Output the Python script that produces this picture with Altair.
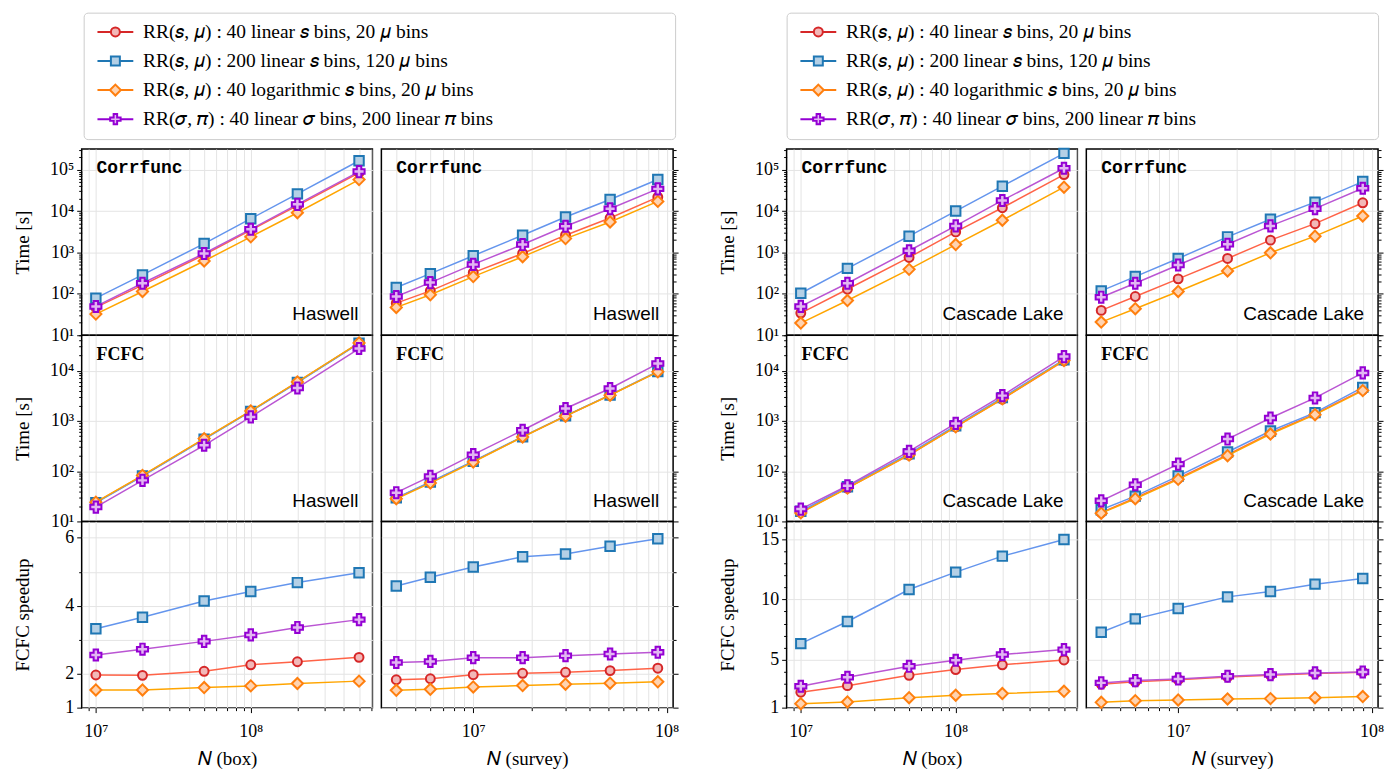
import altair as alt
import pandas as pd

KEYS = ["lin", "fine", "log", "pi"]
LABELS = ["RR(𝑠, 𝜇) : 40 linear 𝑠 bins, 20 𝜇 bins",
          "RR(𝑠, 𝜇) : 200 linear 𝑠 bins, 120 𝜇 bins",
          "RR(𝑠, 𝜇) : 40 logarithmic 𝑠 bins, 20 𝜇 bins",
          "RR(𝜎, 𝜋) : 40 linear 𝜎 bins, 200 linear 𝜋 bins"]
EDGE = ["#d62728", "#1f77b4", "#ff7f0e", "#9400d3"]
FILL = ["#f2b8b8", "#b4d0e6", "#ffd3b0", "#e2b6f2"]
LINE = ["#ff6347", "#6495ed", "#ffa500", "#ba55d3"]
SHAPE = ["circle", "square", "diamond", "cross"]
SIZE = [80, 90, 125, 125]

N_box = [1e7, 2e7, 5e7, 1e8, 2e8, 5e8]
N_survey = [4e6, 6e6, 1e7, 1.8e7, 3e7, 5.1e7, 9e7]

# ---------------- Haswell ----------------
hsw_box_corrfunc = {
    "lin": [47, 162, 880, 3450, 13500, 84000],
    "fine": [78.5, 286, 1640, 6530, 26000, 164000],
    "log": [32.4, 114, 621, 2380, 9100, 57500],
    "pi": [49.6, 180, 944, 3640, 14500, 89700],
}
hsw_survey_corrfunc = {
    "lin": [59.6, 118, 325, 944, 2610, 6790, 21700],
    "fine": [142, 308, 832, 2610, 7180, 19000, 57600],
    "log": [47, 95, 261, 787, 2160, 5440, 17100],
    "pi": [86, 187, 514, 1550, 4300, 11350, 34300],
}
hsw_box_fcfc = {
    "lin": [24, 81, 437, 1560, 5900, 35300],
    "fine": [23.5, 80, 430, 1540, 5800, 35000],
    "log": [24.2, 82.4, 444, 1575, 5960, 35600],
    "pi": [19.3, 65.6, 327, 1200, 4520, 27500],
}
hsw_survey_fcfc = {
    "lin": [29, 60, 155, 480, 1250, 3260, 9500],
    "fine": [29.5, 61, 158, 485, 1260, 3280, 9600],
    "log": [28.3, 58, 152, 478, 1240, 3240, 9440],
    "pi": [37.3, 78.7, 213, 650, 1760, 4400, 13800],
}
hsw_box_speedup = {
    "lin": [1.96, 1.95, 2.07, 2.26, 2.35, 2.48],
    "fine": [3.32, 3.66, 4.14, 4.42, 4.68, 4.97],
    "log": [1.52, 1.52, 1.59, 1.64, 1.71, 1.78],
    "pi": [2.55, 2.72, 2.95, 3.14, 3.36, 3.59],
}
hsw_survey_speedup = {
    "lin": [1.82, 1.85, 1.97, 2.01, 2.04, 2.09, 2.16],
    "fine": [4.58, 4.84, 5.14, 5.44, 5.52, 5.75, 5.97],
    "log": [1.51, 1.54, 1.61, 1.65, 1.69, 1.72, 1.76],
    "pi": [2.33, 2.36, 2.47, 2.47, 2.53, 2.58, 2.63],
}

# ---------------- Cascade Lake ----------------
csl_box_corrfunc = {
    "lin": [34.3, 129, 757, 3130, 12000, 75900],
    "fine": [103.5, 412, 2470, 10000, 39800, 247000],
    "log": [19.7, 69, 390, 1550, 5990, 37700],
    "pi": [49.7, 180, 1100, 4370, 18000, 108000],
}
csl_survey_corrfunc = {
    "lin": [39.8, 86.3, 230, 716, 1980, 4950, 15800],
    "fine": [118, 261, 716, 2380, 6310, 16400, 51500],
    "log": [20.8, 43.7, 114, 357, 982, 2470, 7590],
    "pi": [83, 180, 498, 1580, 4370, 11400, 35600],
}
csl_box_fcfc = {
    "lin": [15.2, 46, 208, 760, 2700, 15600],
    "fine": [16, 49, 222, 800, 2900, 16500],
    "log": [14.8, 46, 210, 760, 2750, 15900],
    "pi": [17.6, 51.2, 247, 891, 3180, 19000],
}
csl_survey_fcfc = {
    "lin": [15, 29.5, 72, 212, 570, 1370, 4150],
    "fine": [17.1, 31.9, 79.8, 240, 630, 1460, 4640],
    "log": [14.6, 28.3, 68.7, 203, 548, 1330, 4000],
    "pi": [25.7, 53.6, 138, 435, 1140, 2860, 9000],
}
csl_box_speedup = {
    "lin": [2.28, 2.83, 3.69, 4.17, 4.56, 4.97],
    "fine": [6.33, 8.17, 10.83, 12.28, 13.61, 15.0],
    "log": [1.33, 1.47, 1.83, 2.03, 2.17, 2.36],
    "pi": [2.78, 3.53, 4.44, 4.94, 5.42, 5.83],
}
csl_survey_speedup = {
    "lin": [2.95, 3.15, 3.33, 3.55, 3.70, 3.85, 3.95],
    "fine": [7.28, 8.39, 9.25, 10.22, 10.67, 11.28, 11.75],
    "log": [1.44, 1.58, 1.64, 1.72, 1.75, 1.83, 1.92],
    "pi": [3.06, 3.25, 3.39, 3.61, 3.75, 3.89, 3.97],
}

# ---------------- axes helpers ----------------
XDOM_BOX = [8.1e6, 6.1e8]
XDOM_SURVEY = [3.35e6, 1.08e8]
XMAJ = [1e7, 1e8]
XMIN_BOX = [9e6] + [k * 1e7 for k in range(2, 10)] + [k * 1e8 for k in range(2, 7)]
XMIN_SURVEY = [k * 1e6 for k in range(4, 10)] + [k * 1e7 for k in range(2, 10)]
XEXPR = "datum.value < 5e7 ? '10⁷' : '10⁸'"

YDOM_T1 = [10, 3.14e5]
YDOM_T2 = [10, 5.05e4]
YMAJ_T1 = [10, 100, 1000, 1e4, 1e5]
YMAJ_T2 = [10, 100, 1000, 1e4]
YMIN_T1 = [k * 10 ** e for e in range(1, 5) for k in range(2, 10)] + [2e5, 3e5]
YMIN_T2 = [k * 10 ** e for e in range(1, 4) for k in range(2, 10)] + [2e4, 3e4, 4e4, 5e4]
YEXPR = ("datum.value < 15 ? '10¹' : datum.value < 150 ? '10²' : "
         "datum.value < 1500 ? '10³' : datum.value < 15000 ? '10⁴' : '10⁵'")

PATHS = [
    "M-3.6,0H-0.9M0.9,0H3.6M0.9,0A0.9,0.9,0,1,1,-0.9,0A0.9,0.9,0,1,1,0.9,0Z",
    "M-3.6,0H-0.9M0.9,0H3.6M-0.9,-0.9H0.9V0.9H-0.9Z",
    "M-3.6,0H-1.1M1.1,0H3.6M0,-1.1L1.1,0L0,1.1L-1.1,0Z",
    "M-3.6,0H-1.05M1.05,0H3.6M-1.05,-0.35H-0.35V-1.05H0.35V-0.35H1.05V0.35H0.35V1.05H-0.35V0.35H-1.05Z",
]


def make_legend(lx):
    # the (white, invisible) title on the right only widens the framed box
    return alt.Legend(title="MMMMMMMMMM", titleOrient="right", titleColor="white",
                      titleFontSize=18.2, titlePadding=0, titleFont="Liberation Serif",
                      orient="none", legendX=lx, legendY=-137,
                      direction="vertical", columns=1, labelLimit=1000,
                      labelFont="Liberation Serif", labelFontSize=19.5,
                      symbolSize=100, symbolStrokeWidth=2, symbolOffset=12.5,
                      labelOffset=18, rowPadding=8.2, padding=9.6,
                      strokeColor="#cccccc", cornerRadius=4, fillColor="white")


def make_axis(**kw):
    base = dict(domain=False, labelFlush=False, labelOverlap=False)
    base.update(kw)
    return alt.Axis(**base)


def panel(N, vals, xkind, row, col, lib, cpu, leg, speed_kind=None):
    recs = []
    for key in KEYS:
        for n, v in zip(N, vals[key]):
            recs.append({"N": n, "v": v, "s": key})
    df = pd.DataFrame(recs)

    xdom = XDOM_BOX if xkind == "box" else XDOM_SURVEY
    xmin = XMIN_BOX if xkind == "box" else XMIN_SURVEY
    xs = alt.Scale(type="log", domain=xdom, nice=False)
    show_x = row == 2
    xtitle = "𝑁 (box)" if xkind == "box" else "𝑁 (survey)"

    orient = "left" if col == 0 else "right"
    if row == 0:
        ys = alt.Scale(type="log", domain=YDOM_T1, nice=False)
        ymaj, ymin, yexpr, ygridmin, ytitle = YMAJ_T1, YMIN_T1, YEXPR, False, "Time [s]"
    elif row == 1:
        ys = alt.Scale(type="log", domain=YDOM_T2, nice=False)
        ymaj, ymin, yexpr, ygridmin, ytitle = YMAJ_T2, YMIN_T2, YEXPR, False, "Time [s]"
    else:
        ytitle = "FCFC speedup"
        if speed_kind == "hsw":
            ys = alt.Scale(type="linear", domain=[1, 6.48], nice=False, zero=False)
            ymaj, ymin, yexpr, ygridmin = [1, 2, 4, 6], [3, 5], None, True
        else:
            ys = alt.Scale(type="linear", domain=[1, 16.5], nice=False, zero=False)
            ymaj = [1, 5, 10, 15]
            ymin = [k for k in range(2, 17) if k not in (5, 10, 15)]
            yexpr, ygridmin = None, False

    xkw = dict(values=XMAJ, orient="bottom", grid=True, ticks=show_x, labels=show_x,
               tickSize=5, labelPadding=10)
    if show_x:
        xkw.update(labelExpr=XEXPR, title=xtitle, titlePadding=9)
    else:
        xkw.update(title=None)
    x_major = make_axis(**xkw)
    x_minor = make_axis(values=xmin, orient="bottom", grid=True, ticks=show_x,
                        labels=False, tickSize=3, title=None)

    ykw = dict(values=ymaj, orient=orient, grid=True, ticks=True, tickSize=5,
               labels=(col == 0), labelPadding=3)
    if col == 0:
        ykw.update(title=ytitle, titleX=-49)
        if yexpr:
            ykw.update(labelExpr=yexpr)
        else:
            ykw.update(format="d")
    else:
        ykw.update(title=None)
    y_major = make_axis(**ykw)
    y_minor = make_axis(values=ymin, orient=orient, grid=ygridmin, ticks=True,
                        tickSize=3, labels=False, title=None)

    base = alt.Chart(df)
    layers = [
        base.mark_point(opacity=0).encode(
            x=alt.X("N:Q", scale=xs, axis=x_major), y=alt.Y("v:Q", scale=ys, axis=y_major)),
        base.mark_point(opacity=0).encode(
            x=alt.X("N:Q", scale=xs, axis=x_minor), y=alt.Y("v:Q", scale=ys, axis=y_minor)),
    ]
    for i, key in enumerate(KEYS):
        d = base.transform_filter(alt.datum.s == key)
        layers.append(d.mark_line(color=LINE[i], strokeWidth=1.5).encode(
            x=alt.X("N:Q", scale=xs, axis=None), y=alt.Y("v:Q", scale=ys, axis=None)))
        layers.append(d.mark_point(shape=SHAPE[i], size=SIZE[i], stroke=EDGE[i], fill=FILL[i],
                                   opacity=1, fillOpacity=1, strokeWidth=2).encode(
            x=alt.X("N:Q", scale=xs, axis=None), y=alt.Y("v:Q", scale=ys, axis=None)))

    leg_df = pd.DataFrame({"s": LABELS, "N": [None] * 4, "v": [None] * 4})
    layers.append(alt.Chart(leg_df).mark_point(opacity=1, strokeWidth=2, invalid="filter").encode(
        x=alt.X("N:Q", scale=xs, axis=None), y=alt.Y("v:Q", scale=ys, axis=None),
        color=alt.Color("s:N", scale=alt.Scale(domain=LABELS, range=EDGE), legend=leg),
        fill=alt.Fill("s:N", scale=alt.Scale(domain=LABELS, range=FILL), legend=leg),
        shape=alt.Shape("s:N", scale=alt.Scale(domain=LABELS, range=PATHS), legend=leg),
    ))

    W = 292 if col == 0 else 293
    if lib == "Corrfunc":
        layers.append(alt.Chart(pd.DataFrame({"t": [lib]})).mark_text(
            align="left", baseline="middle", font="Liberation Mono", fontSize=18,
            fontWeight="bold", color="black").encode(
            text="t:N", x=alt.value(15), y=alt.value(19)))
    elif lib == "FCFC":
        layers.append(alt.Chart(pd.DataFrame({"t": [lib]})).mark_text(
            align="left", baseline="middle", font="Liberation Serif", fontSize=18,
            fontWeight="bold", color="black").encode(
            text="t:N", x=alt.value(15), y=alt.value(20)))
    if cpu:
        layers.append(alt.Chart(pd.DataFrame({"t": [cpu]})).mark_text(
            align="right", baseline="middle", font="Liberation Sans", fontSize=19,
            color="black").encode(
            text="t:N", x=alt.value(W - 14), y=alt.value(166)))

    return alt.layer(*layers).resolve_axis(x="independent", y="independent").properties(
        width=W, height=187)


def block(data, cpu, sk, lx):
    (bc, sc, bf, sf, bs, ss) = data
    leg = make_legend(lx)
    panels = [
        panel(N_box, bc, "box", 0, 0, "Corrfunc", cpu, leg),
        panel(N_survey, sc, "survey", 0, 1, "Corrfunc", cpu, leg),
        panel(N_box, bf, "box", 1, 0, "FCFC", cpu, leg),
        panel(N_survey, sf, "survey", 1, 1, "FCFC", cpu, leg),
        panel(N_box, bs, "box", 2, 0, None, None, leg, sk),
        panel(N_survey, ss, "survey", 2, 1, None, None, leg, sk),
    ]
    return alt.concat(*panels, columns=2, spacing={"row": 0, "column": 9}, bounds="flush")


b1 = block((hsw_box_corrfunc, hsw_survey_corrfunc, hsw_box_fcfc, hsw_survey_fcfc,
            hsw_box_speedup, hsw_survey_speedup), "Haswell", "hsw", 2)
b2 = block((csl_box_corrfunc, csl_survey_corrfunc, csl_box_fcfc, csl_survey_fcfc,
            csl_box_speedup, csl_survey_speedup), "Cascade Lake", "csl", 0)

chart = alt.hconcat(b1, b2, spacing=38).resolve_scale(
    color="independent", fill="independent", shape="independent"
).resolve_legend(
    color="independent", fill="independent", shape="independent"
).properties(
    padding={"left": 5, "top": 2, "right": 5, "bottom": 5}
).configure_view(
    stroke="black", strokeWidth=1.5
).configure_axis(
    labelFont="Liberation Serif", labelFontSize=18, titleFont="Liberation Serif",
    titleFontSize=19, titleFontWeight="normal", titleColor="black", labelColor="black",
    tickColor="black", tickWidth=1, gridColor="#e4e4e4", gridWidth=1
)

chart.save("out.html", embed_options={"renderer": "svg", "actions": False})
